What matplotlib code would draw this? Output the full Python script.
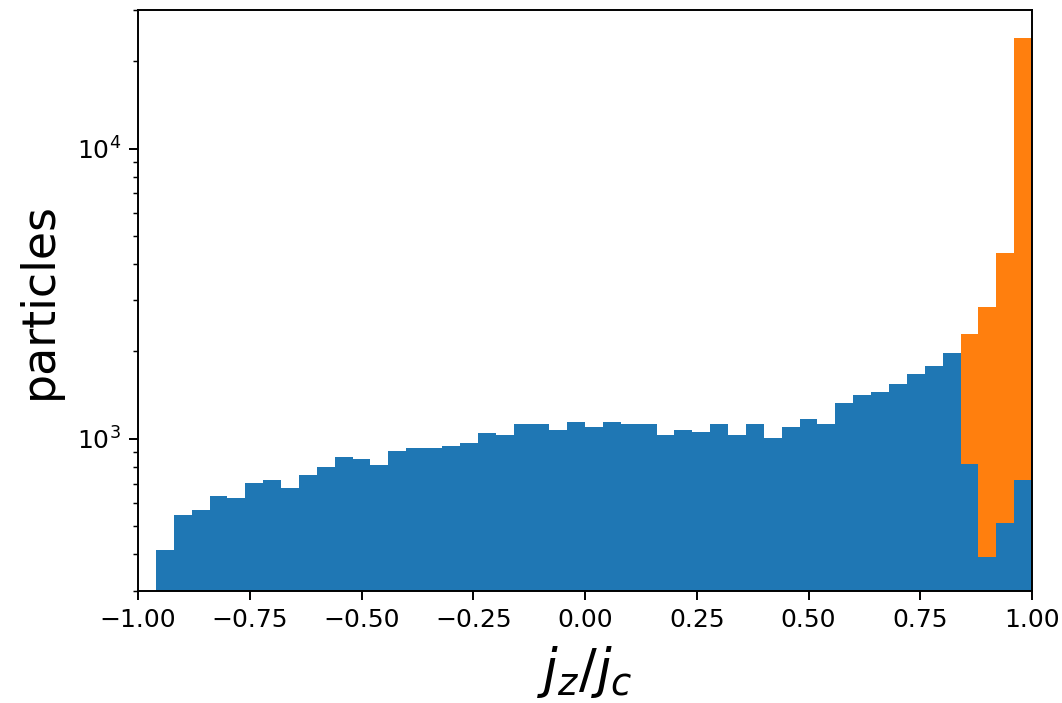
import numpy as np
import matplotlib
matplotlib.use("Agg")
import matplotlib.pyplot as plt

# Bin edges (jz/jc), width 0.04
blue_left_edge = -0.96
bin_width = 0.04

# Blue histogram counts (bins from -0.96 to 1.00)
blue_counts = [414, 545, 569, 633, 623, 703, 722, 676, 749, 800,
               866, 851, 815, 908, 927, 927, 944, 970, 1050, 1034,
               1122, 1122, 1076, 1142, 1095, 1142, 1128, 1128, 1031, 1072,
               1055, 1124, 1031, 1124, 1010, 1095, 1167, 1122, 1325, 1411,
               1449, 1540, 1676, 1785, 1980, 819, 391, 514, 722]

# Orange histogram tops (bins from 0.84 to 1.00)
orange_left_edge = 0.84
orange_counts = [2297, 2850, 4356, 23990]

blue_edges = np.round(blue_left_edge + bin_width * np.arange(len(blue_counts) + 1), 4)
orange_edges = np.round(orange_left_edge + bin_width * np.arange(len(orange_counts) + 1), 4)

fig = plt.figure(figsize=(10.62, 7.03), dpi=100)
ax = fig.add_axes([0.13, 0.16, 0.8418, 0.8257])

ax.hist(orange_edges[:-1] + bin_width / 2, bins=orange_edges, weights=orange_counts,
        color="#ff7f0e", zorder=1)
ax.hist(blue_edges[:-1] + bin_width / 2, bins=blue_edges, weights=blue_counts,
        color="#1f77b4", zorder=2)

ax.set_yscale("log")
ax.set_xlim(-1.0, 1.0)
ax.set_ylim(300, 30000)
ax.set_xticks(np.linspace(-1, 1, 9))
ax.set_xticklabels([f"{v:.2f}".replace("-", "\u2212") for v in np.linspace(-1, 1, 9)])

for s in ax.spines.values():
    s.set_linewidth(1.4)
ax.tick_params(axis="both", which="major", labelsize=18, length=6.2, width=1.4, pad=6.2)
ax.tick_params(axis="both", which="minor", length=3.5, width=1.05)

ax.set_xlabel("$j_z/j_c$", fontsize=38, labelpad=9)
ax.set_ylabel("particles", fontsize=33, labelpad=11)

fig.savefig("out.png", dpi=100)
